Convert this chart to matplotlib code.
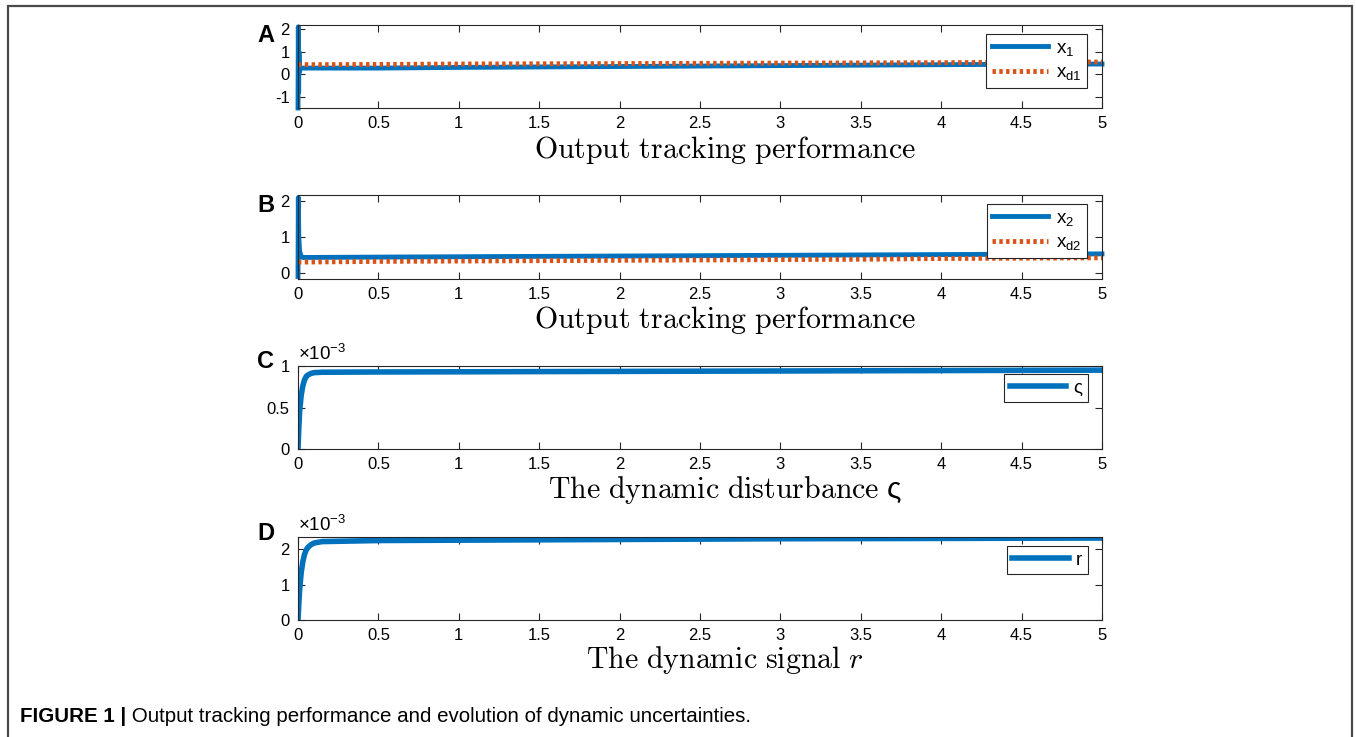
import matplotlib
matplotlib.use("Agg")
import matplotlib.pyplot as plt
from matplotlib.patches import Rectangle

# ---- data (time in s) ----
t_x1 = [0, 0.002, 0.004, 0.006, 0.009, 0.015, 0.5, 1, 1.5, 2, 2.5, 3, 3.5, 4, 4.5, 5]
x1 = [-1.5, 2.1, -0.8, 1.0, 0.1, 0.27, 0.27, 0.30, 0.32, 0.34, 0.36, 0.38, 0.40, 0.42, 0.44, 0.45]
t_xd = [0, 0.5, 1, 1.5, 2, 2.5, 3, 3.5, 4, 4.5, 5]
xd1 = [0.42, 0.43, 0.45, 0.46, 0.47, 0.48, 0.49, 0.50, 0.51, 0.53, 0.54]

t_x2 = [0, 0.002, 0.005, 0.01, 0.02, 0.03, 0.5, 1, 1.5, 2, 2.5, 3, 3.5, 4, 4.5, 5]
x2 = [-0.1, 2.1, 1.0, 0.6, 0.45, 0.43, 0.44, 0.45, 0.46, 0.47, 0.48, 0.49, 0.50, 0.51, 0.52, 0.53]
xd2 = [0.30, 0.32, 0.33, 0.34, 0.35, 0.36, 0.37, 0.38, 0.40, 0.41, 0.42]

t_dyn = [0, 0.005, 0.01, 0.02, 0.03, 0.04, 0.05, 0.06, 0.08, 0.1, 0.15, 0.5, 1, 2, 3, 4, 5]
sigma = [0, 0.25, 0.45, 0.65, 0.76, 0.83, 0.87, 0.89, 0.91, 0.92, 0.925, 0.928, 0.93, 0.935, 0.94, 0.945, 0.95]  # x1e-3
r_sig = [0, 0.45, 0.85, 1.35, 1.65, 1.85, 1.97, 2.05, 2.13, 2.18, 2.22, 2.25, 2.26, 2.28, 2.30, 2.31, 2.32]  # x1e-3

xticks = [0, 0.5, 1, 1.5, 2, 2.5, 3, 3.5, 4, 4.5, 5]
xticklabels = ["0", "0.5", "1", "1.5", "2", "2.5", "3", "3.5", "4", "4.5", "5"]

BLUE = "#0072BD"
ORANGE = "#D95319"
GRAY = "#262626"

plt.rcParams["font.family"] = ["Liberation Sans", "DejaVu Sans"]
plt.rcParams["mathtext.fontset"] = "custom"
plt.rcParams["mathtext.rm"] = "Liberation Sans"
plt.rcParams["mathtext.sf"] = "Liberation Sans"
plt.rcParams["mathtext.default"] = "regular"
plt.rcParams["axes.unicode_minus"] = False

W, H = 1356, 737
fig = plt.figure(figsize=(W / 100, H / 100), dpi=100)

# outer frame
fig.add_artist(Rectangle((8 / W, -0.05), (1352 - 8) / W, 1.05 - 6 / H,
                         transform=fig.transFigure, fill=False,
                         edgecolor="#4a4a4a", linewidth=1.6))


def make_ax(top_px, bot_px):
    left, right = 298, 1102
    ax = fig.add_axes([left / W, 1 - bot_px / H, (right - left) / W, (bot_px - top_px) / H])
    ax.set_xlim(0, 5)
    ax.set_xticks(xticks)
    ax.set_xticklabels(xticklabels)
    ax.tick_params(direction="in", top=True, right=True, length=5, width=0.8,
                   colors=GRAY, labelsize=12, pad=6)
    ax.tick_params(axis="both", labelcolor="black")
    for s in ax.spines.values():
        s.set_color(GRAY)
        s.set_linewidth(0.8)
    return ax


def add_legend(ax, anchor):
    leg = ax.legend(loc="upper right", bbox_to_anchor=anchor, borderaxespad=0,
                    fancybox=False, edgecolor=GRAY, framealpha=1,
                    handlelength=3.0, handletextpad=0.4, fontsize=13.5,
                    labelspacing=0.35, borderpad=0.3)
    leg.get_frame().set_linewidth(0.8)
    return leg


def title(y_px, s):
    fig.text(725 / W, 1 - y_px / H, s, ha="center", va="center",
             fontsize=21.5, math_fontfamily="cm")


def letter(y_px, s):
    fig.text(257 / W, 1 - y_px / H, s, ha="left", va="center",
             fontsize=17, fontweight="bold")


# ---- A ----
axA = make_ax(25, 108)
axA.plot(t_x1, x1, color=BLUE, lw=3.5, label="x$_{1}$", clip_on=False)
axA.plot(t_xd, xd1, color=ORANGE, lw=3.5, ls=(0, (0.7, 0.7)), label="x$_{d1}$")
axA.set_ylim(-1.5, 2.18)
axA.set_yticks([-1, 0, 1, 2])
add_legend(axA, (1 - 15 / 804, 1 - 9 / 83))
title(150, r"$\mathrm{Output\ tracking\ performance}$")
letter(35, "A")

# ---- B ----
axB = make_ax(195, 279)
axB.plot(t_x2, x2, color=BLUE, lw=3.5, label="x$_{2}$", clip_on=False)
axB.plot(t_xd, xd2, color=ORANGE, lw=3.5, ls=(0, (0.7, 0.7)), label="x$_{d2}$")
axB.set_ylim(-0.17, 2.17)
axB.set_yticks([0, 1, 2])
add_legend(axB, (1 - 15 / 804, 1 - 9 / 84))
title(320, r"$\mathrm{Output\ tracking\ performance}$")
letter(205, "B")

# ---- C ----
axC = make_ax(366, 449)
axC.plot(t_dyn, sigma, color=BLUE, lw=4, label="ς")
axC.set_ylim(0, 1)
axC.set_yticks([0, 0.5, 1])
axC.set_yticklabels(["0", "0.5", "1"])
axC.text(0, 1.02, r"$\times10^{-3}$", transform=axC.transAxes, ha="left",
         va="bottom", fontsize=13.5)
add_legend(axC, (1 - 14 / 804, 1 - 8 / 83))
title(490, r"$\mathrm{The\ dynamic\ disturbance}\ \varsigma$")
letter(362, "C")

# ---- D ----
axD = make_ax(537, 620)
axD.plot(t_dyn, r_sig, color=BLUE, lw=4, label="r")
axD.set_ylim(0, 2.35)
axD.set_yticks([0, 1, 2])
axD.text(0, 1.02, r"$\times10^{-3}$", transform=axD.transAxes, ha="left",
         va="bottom", fontsize=13.5)
add_legend(axD, (1 - 14 / 804, 1 - 9 / 83))
title(660, r"$\mathrm{The\ dynamic\ signal}\ \mathit{r}$")
letter(533, "D")

# caption
cap = fig.text(20 / W, 1 - 716 / H, "FIGURE 1 |", ha="left", va="center",
               fontsize=14.8, fontweight="bold")
fig.add_artist(plt.Annotation(" Output tracking performance and evolution of dynamic uncertainties.",
                              xy=(1, 0.5), xycoords=cap, va="center", ha="left",
                              fontsize=14.8))

fig.savefig("out.png", dpi=100)
